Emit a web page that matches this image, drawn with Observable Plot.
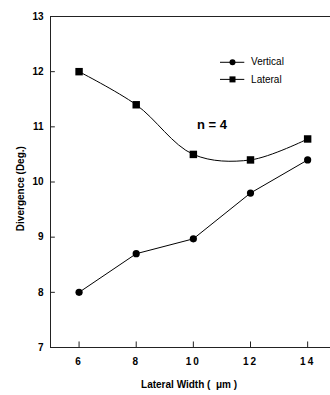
<!DOCTYPE html>
<html>
<head>
<meta charset="utf-8">
<script src="https://cdn.jsdelivr.net/npm/d3@7"></script>
<script src="https://cdn.jsdelivr.net/npm/@observablehq/plot@0.6"></script>
<style>
  html, body { margin: 0; padding: 0; background: #fff; }
  #chart { position: relative; width: 330px; height: 395px; overflow: hidden; }
  #chart svg { font-family: "Liberation Sans Narrow", "Liberation Sans", Arial, sans-serif; }
  #chart svg g.xax text { letter-spacing: 2px; }
</style>
</head>
<body>
<div id="chart"></div>
<script>
const widths = [6, 8, 10, 12, 14];
const vertical = [8.0, 8.7, 8.97, 9.8, 10.4];
const lateral = [12.0, 11.4, 10.5, 10.4, 10.78];
const yTicks = [7, 8, 9, 10, 11, 12, 13];
const xTicks = [6, 8, 10, 12, 14];
const seriesNames = ["Vertical", "Lateral"];
const xLabel = "Lateral Width (  μm )";
const yLabel = "Divergence (Deg.)";
const note = "n = 4";

const vData = widths.map((w, i) => ({w, v: vertical[i]}));
const lData = widths.map((w, i) => ({w, v: lateral[i]}));

// legend placement in data coordinates
const legX0 = 10.95, legX1 = 11.8, legXm = 11.37, legXt = 12.02;
const legY = [12.17, 11.86];

const chart = Plot.plot({
  width: 330,
  height: 395,
  marginLeft: 50,
  marginRight: 0,
  marginTop: 16,
  marginBottom: 48,
  style: {background: "#fff", color: "#000"},
  x: {domain: [5, 14.8]},
  y: {domain: [7, 13]},
  marks: [
    // frame
    Plot.ruleY([7, 13], {stroke: "#222", strokeWidth: 1.2}),
    Plot.ruleX([5], {stroke: "#222", strokeWidth: 1}),
    // inward ticks
    Plot.ruleY(yTicks.slice(1, -1), {x1: 5, x2: 5.17, stroke: "#222"}),
    Plot.ruleX(xTicks, {y1: 7, y2: 7.1, stroke: "#222"}),
    Plot.axisY(yTicks, {tickSize: 0, tickPadding: 7, fontSize: 10, fontWeight: "bold", label: null, tickFormat: d3.format("d")}),
    Plot.axisX(xTicks, {tickSize: 0, tickPadding: 10, fontSize: 10, fontWeight: "bold", label: null, className: "xax", tickFormat: d3.format("d")}),
    // series
    Plot.line(vData, {x: "w", y: "v", stroke: "#000", strokeWidth: 1}),
    Plot.dot(vData, {x: "w", y: "v", r: 3.6, fill: "#000", stroke: null}),
    Plot.line(lData, {x: "w", y: "v", stroke: "#000", strokeWidth: 1, curve: "catmull-rom"}),
    Plot.dot(lData, {x: "w", y: "v", symbol: "square", r: 4.2, fill: "#000", stroke: null}),
    // legend
    Plot.ruleY(legY, {x1: legX0, x2: legX1, stroke: "#000", strokeWidth: 1}),
    Plot.dot([legY[0]], {x: legXm, y: d => d, r: 3, fill: "#000", stroke: null}),
    Plot.dot([legY[1]], {x: legXm, y: d => d, symbol: "square", r: 3.4, fill: "#000", stroke: null}),
    Plot.text(seriesNames, {x: legXt, y: (d, i) => legY[i], text: d => d, textAnchor: "start", fontSize: 10}),
    // annotation
    Plot.text([note], {x: 10.65, y: 11.03, text: d => d, fontSize: 13, fontWeight: "bold"}),
    // axis titles
    Plot.text([xLabel], {x: 9.85, y: 7, dy: 37, text: d => d, fontSize: 10, fontWeight: "bold", textAnchor: "middle"}),
    Plot.text([yLabel], {x: 5, y: 9.88, dx: -30, text: d => d, fontSize: 10, fontWeight: "bold", rotate: -90, textAnchor: "middle"})
  ]
});
document.getElementById("chart").append(chart);
</script>
</body>
</html>
